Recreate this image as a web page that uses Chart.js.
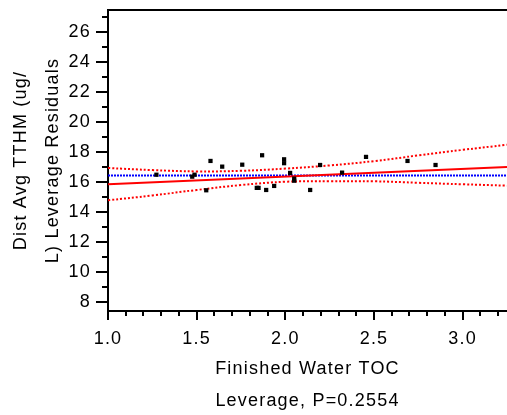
<!DOCTYPE html>
<html><head><meta charset="utf-8">
<script src="https://cdn.jsdelivr.net/npm/chart.js@4.4.1/dist/chart.umd.min.js"></script>
<style>html,body{margin:0;padding:0;background:#fff}#wrap{width:507px;height:415px}</style>
</head><body><div id="wrap"><canvas id="c" width="507" height="415"></canvas></div>
<script>
// ---- data ----
const toc   = [1.273, 1.475, 1.488, 1.554, 1.578, 1.644, 1.757, 1.839, 1.849, 1.869, 1.892, 1.937,
               1.993, 1.993, 2.027, 2.050, 2.050, 2.140, 2.196, 2.320, 2.455, 2.689, 2.847];
const resid = [16.49, 16.36, 16.49, 15.45, 17.41, 17.03, 17.16, 15.61, 15.61, 17.79, 15.47, 15.74,
               17.52, 17.26, 16.61, 16.23, 16.09, 15.47, 17.14, 16.63, 17.68, 17.41, 17.14];
const fitX = [1.0, 3.25];
const fitY = [15.85, 17.00];
const bandX     = [1.0, 1.25, 1.5, 1.75, 2.0, 2.25, 2.5, 2.75, 3.0, 3.25];
const bandUpper = [16.94, 16.80, 16.71, 16.75, 16.90, 17.11, 17.40, 17.78, 18.15, 18.49];
const bandLower = [14.78, 15.10, 15.47, 15.80, 16.02, 16.05, 16.05, 15.95, 15.85, 15.76];
const meanX = [1.0, 3.25];
const meanY = 16.43;
const xTickValues = [1.0, 1.5, 2.0, 2.5, 3.0];
const xTickLabels = ['1.0', '1.5', '2.0', '2.5', '3.0'];
const yTickValues = [8, 10, 12, 14, 16, 18, 20, 22, 24, 26];
const yTickLabels = ['8', '10', '12', '14', '16', '18', '20', '22', '24', '26'];
const xTitle = ['Finished Water TOC', 'Leverage, P=0.2554'];
const yTitle = ['Dist Avg TTHM (ug/', 'L) Leverage Residuals'];

const FONT = 'Liberation Sans, Arial, sans-serif';
const pts = (xs, ys) => xs.map((x, i) => ({x, y: Array.isArray(ys) ? ys[i] : ys}));
const zeroPad = s => { s.paddingLeft = 0; s.paddingRight = 0; s.paddingTop = 0; s.paddingBottom = 0; };

const frame = {
  id: 'frame',
  beforeDraw(chart) { chart.ctx.letterSpacing = '1.2px'; },
  afterDraw(chart) {
    const {ctx, chartArea: a, scales: {x, y}} = chart;
    ctx.save();
    ctx.strokeStyle = '#000';
    ctx.lineWidth = 2;
    ctx.beginPath();
    ctx.moveTo(a.left - 1, a.top); ctx.lineTo(a.right + 2, a.top);
    for (let v = 8; v <= 27; v++) {
      const py = Math.round(y.getPixelForValue(v));
      const len = (v % 2 === 0) ? 12 : 6;
      ctx.moveTo(a.left - len, py); ctx.lineTo(a.left, py);
    }
    for (let k = 10; k <= 32; k++) {
      const px = Math.round(x.getPixelForValue(k / 10));
      const len = (k % 5 === 0) ? 9 : 5;
      ctx.moveTo(px, a.bottom); ctx.lineTo(px, a.bottom + len);
    }
    ctx.stroke();
    ctx.restore();
  }
};

new Chart(document.getElementById('c'), {
  type: 'scatter',
  data: {
    datasets: [
      { label: 'points', data: pts(toc, resid), pointStyle: 'rect', pointRadius: 3,
        backgroundColor: '#000', borderWidth: 0, order: 0 },
      { label: 'fit', data: pts(fitX, fitY), showLine: true, borderColor: '#ff0000',
        borderWidth: 2, pointRadius: 0, order: 1 },
      { label: 'upper', data: pts(bandX, bandUpper), showLine: true, borderColor: '#ff0000',
        borderWidth: 2, borderDash: [2, 2], pointRadius: 0, tension: 0.4, order: 2 },
      { label: 'lower', data: pts(bandX, bandLower), showLine: true, borderColor: '#ff0000',
        borderWidth: 2, borderDash: [2, 2], pointRadius: 0, tension: 0.4, order: 2 },
      { label: 'mean', data: pts(meanX, meanY), showLine: true, borderColor: '#0000ff',
        borderWidth: 2, borderDash: [2, 1], pointRadius: 0, order: 3 }
    ]
  },
  options: {
    responsive: false,
    devicePixelRatio: 1,
    animation: false,
    layout: { autoPadding: false, padding: { top: 10, right: 0, left: 0, bottom: 0 } },
    plugins: { legend: { display: false }, tooltip: { enabled: false } },
    scales: {
      x: {
        type: 'linear', min: 1.0, max: 3.25,
        afterBuildTicks: s => { s.ticks = xTickValues.map(v => ({value: v})); },
        afterFit: s => { s.height = 104; zeroPad(s); },
        ticks: { autoSkip: false, maxRotation: 0, padding: 17, color: '#000',
                 font: { family: FONT, size: 18 },
                 callback: (v, i) => xTickLabels[i] },
        grid: { display: false, drawTicks: false },
        border: { display: true, color: '#000', width: 2 },
        title: { display: true, text: xTitle, color: '#000',
                 font: { family: FONT, size: 18, lineHeight: 32.5 / 18 },
                 padding: { top: 0, bottom: -2.5 } }
      },
      y: {
        type: 'linear', min: 7.38, max: 27.5,
        afterBuildTicks: s => { s.ticks = yTickValues.map(v => ({value: v})); },
        afterFit: s => { s.width = 108; zeroPad(s); },
        ticks: { autoSkip: false, padding: 17, color: '#000',
                 font: { family: FONT, size: 18 },
                 callback: (v, i) => yTickLabels[i] },
        grid: { display: false, drawTicks: false },
        border: { display: true, color: '#000', width: 2 },
        title: { display: true, text: yTitle, color: '#000',
                 font: { family: FONT, size: 18, lineHeight: 32 / 18 },
                 padding: { top: 5, bottom: 0 } }
      }
    }
  },
  plugins: [frame]
});
</script></body></html>
